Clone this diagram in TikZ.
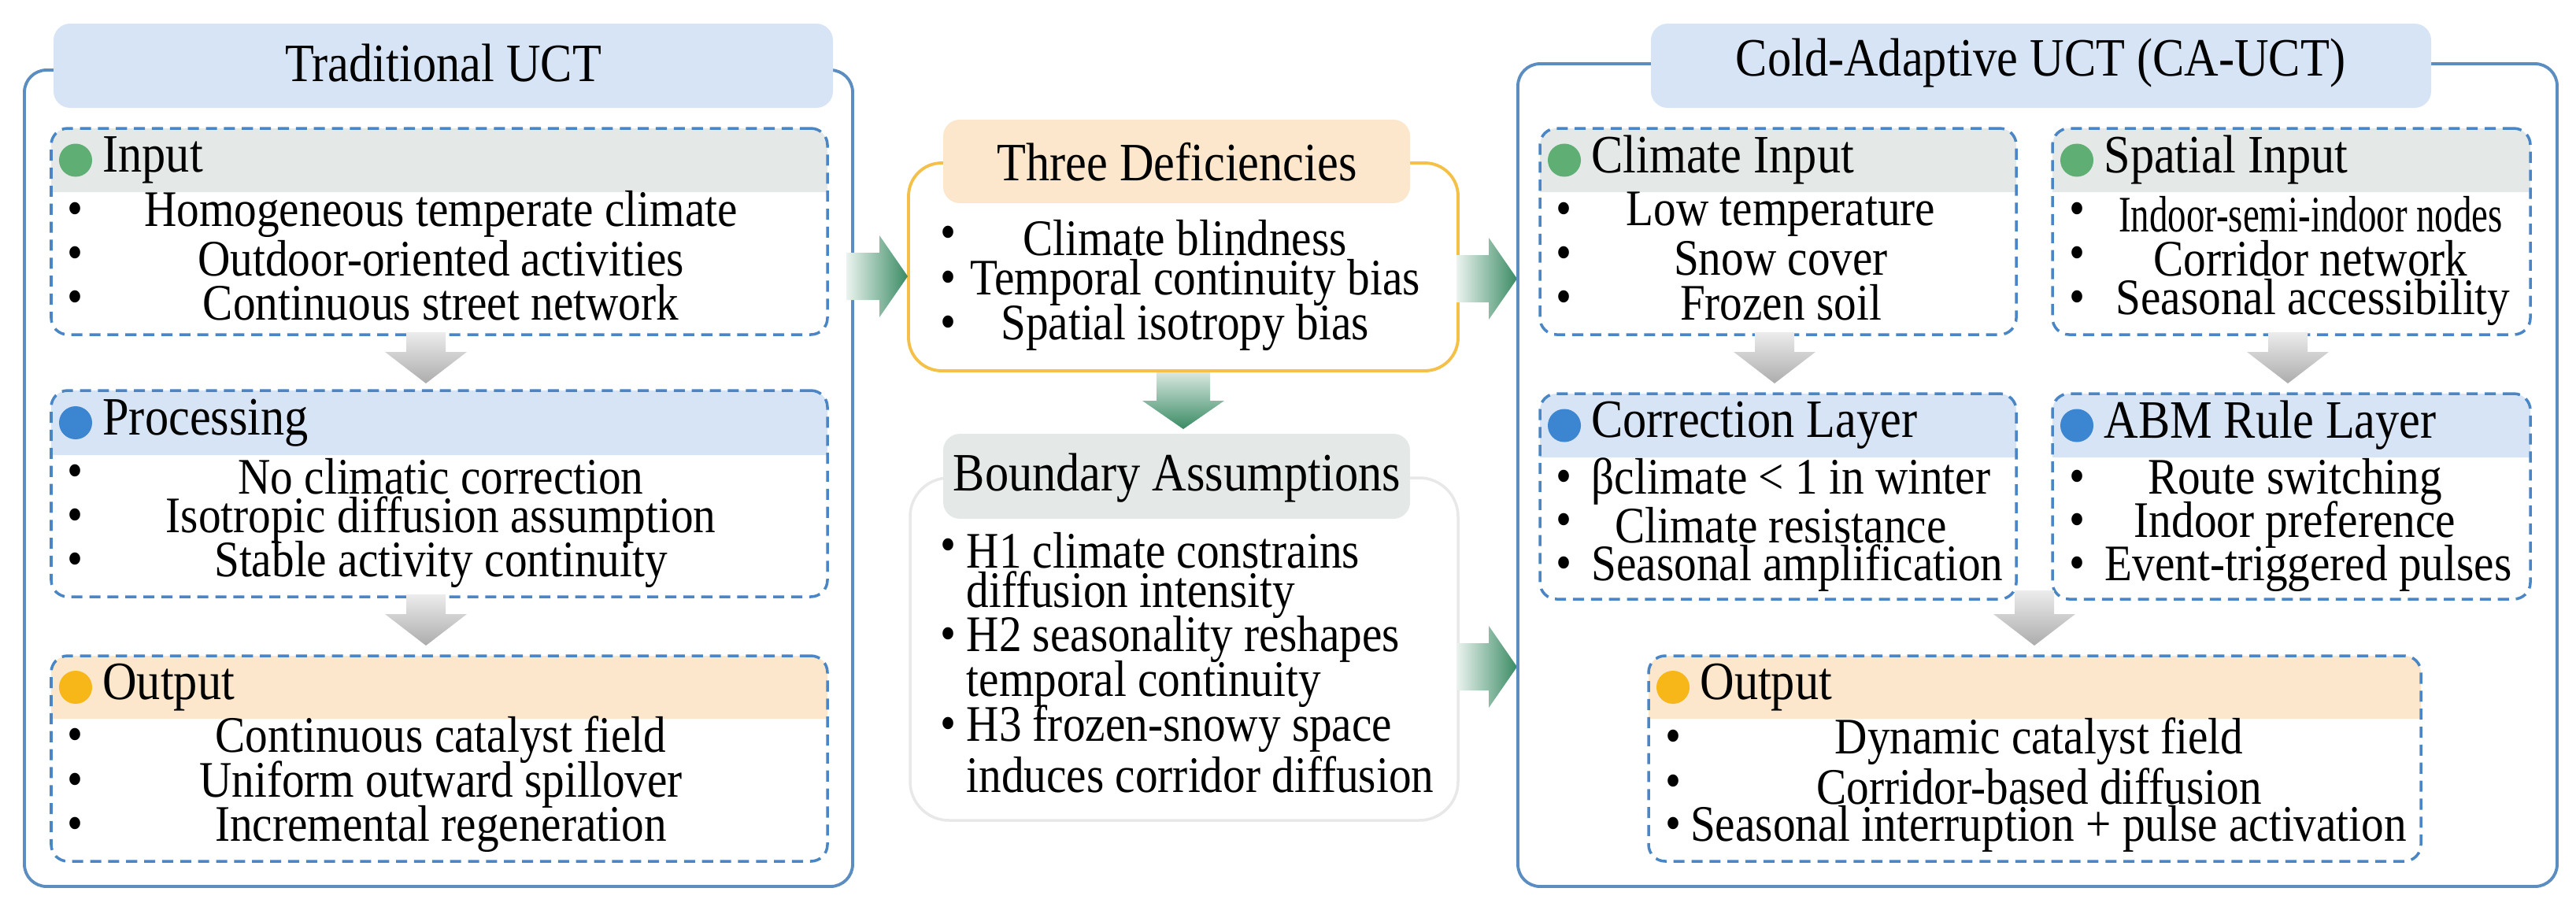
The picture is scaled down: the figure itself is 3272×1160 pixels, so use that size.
\documentclass[tikz,border=0pt]{standalone}
\usepackage{fontspec}
\setmainfont{Liberation Serif}[FakeStretch=0.88]
\usetikzlibrary{fit,calc}
\definecolor{hblue}{HTML}{D6E4F5}
\definecolor{hgray}{HTML}{E4E9E7}
\definecolor{horange}{HTML}{FCE7CC}
\definecolor{lblue}{HTML}{4A86C5}
\definecolor{oblue}{HTML}{5B8DC0}
\definecolor{dgreen}{HTML}{5FAE73}
\definecolor{dblue}{HTML}{3C85D0}
\definecolor{dyellow}{HTML}{F7B718}
\definecolor{oorange}{HTML}{F4C048}
\definecolor{agreen}{HTML}{3A8B64}
\tikzset{
  txt/.style={font=\fontsize{18.5}{18.5}\selectfont, inner sep=0pt},
  ttl/.style={font=\fontsize{19.5}{19.5}\selectfont, inner sep=0pt},
  outer/.style={draw=oblue, line width=1.1pt, rounded corners=8pt},
  dbox/.style={draw=lblue, line width=1pt, dash pattern=on 4pt off 2.5pt, rounded corners=6pt, inner sep=0pt},
  dot/.style={circle, fill=#1, minimum size=0.42cm, inner sep=0pt},
  gshade/.style={top color=gray!15, bottom color=gray!65},
  gvshade/.style={top color=agreen!20, bottom color=agreen},
  ghshade/.style={left color=agreen!10, right color=agreen},
}
\newcommand\darr[8]{%
  \coordinate (#1) at (#2,#3);
  \shade[#8] (#2-#5,#3) -- (#2+#5,#3) -- (#2+#5,#4-#7) -- (#2+#6,#4-#7) -- (#2,#4) -- (#2-#6,#4-#7) -- (#2-#5,#4-#7) -- cycle;
}
\newcommand\rarr[7]{%
  \coordinate (#1) at (#2,#4);
  \shade[ghshade] (#2,#4-#5) -- (#3-#7,#4-#5) -- (#3-#7,#4-#6) -- (#3,#4) -- (#3-#7,#4+#6) -- (#3-#7,#4+#5) -- (#2,#4+#5) -- cycle;
}
\newcommand\mybox[9]{%
  \coordinate (#1-nw) at (#2,#3); \coordinate (#1-se) at (#4,#5);
  \fill[#7] (#2,#6) [rounded corners=6pt]-- (#2,#3) -- (#4,#3) [sharp corners]-- (#4,#6) -- cycle;
  \node[dbox, fit=(#1-nw)(#1-se)] (#1) {};
  \node[dot=#8] (#1-d) at ($(#2,#3)!0.5!(#2,#6)+(31,0)$) {};
  \node[ttl, anchor=west] (#1-t) at ($(#1-d.east)+(12,0)$) {#9};
}
\newcommand\bline[5]{%
  \node[txt] (#1-b) at (#2,#4) {\textbullet};
  \node[txt] (#1) at (#3,#4) {#5};
}
\begin{document}
\begin{tikzpicture}[x=0.01cm,y=-0.01cm]
\useasboundingbox (0,0) rectangle (3272,1160);
% ---------- left panel
\node[outer, fit={(31,89)(1083,1126)}, inner sep=0pt] (L) {};
\fill[hblue, rounded corners=6pt] (68,30) rectangle (1058,137);
\node[ttl] (Lt) at (563,80) {Traditional UCT};
\mybox{inp}{65}{163}{1051}{425}{244}{hgray}{dgreen}{Input}
\bline{i1}{96}{560}{272}{Homogeneous temperate climate}
\bline{i2}{96}{560}{328}{Outdoor-oriented activities}
\bline{i3}{96}{560}{384}{Continuous street network}
\mybox{proc}{65}{496}{1051}{758}{578}{hblue}{dblue}{Processing}
\bline{p1}{96}{560}{605}{No climatic correction}
\bline{p2}{96}{560}{661}{Isotropic diffusion assumption}
\bline{p3}{96}{560}{717}{Stable activity continuity}
\mybox{out}{65}{833}{1051}{1094}{913}{horange}{dyellow}{Output}
\bline{o1}{96}{560}{940}{Continuous catalyst field}
\bline{o2}{96}{560}{997}{Uniform outward spillover}
\bline{o3}{96}{560}{1053}{Incremental regeneration}
\darr{a1}{541}{422}{487}{25}{52}{40}{gshade}
\darr{a2}{541}{755}{820}{25}{52}{40}{gshade}
% ---------- middle
\node[draw=oorange, line width=1.1pt, rounded corners=12pt, fit={(1154,207)(1852,471)}, inner sep=0pt] (D) {};
\fill[horange, rounded corners=6pt] (1198,152) rectangle (1791,258);
\node[ttl] (Dt) at (1495,206) {Three Deficiencies};
\bline{d1}{1205}{1505}{302}{Climate blindness}
\bline{d2}{1205}{1518}{359}{Temporal continuity bias}
\bline{d3}{1205}{1505}{416}{Spatial isotropy bias}
\node[draw=gray!18, line width=1pt, rounded corners=14pt, fit={(1156,607)(1852,1042)}, inner sep=0pt] (B) {};
\fill[hgray, rounded corners=6pt] (1198,551) rectangle (1791,659);
\node[ttl] (Bt) at (1495,607) {Boundary Assumptions};
\node[txt] (b1b) at (1205,699) {\textbullet};
\node[txt, anchor=west] (b1) at (1227,699) {H1 climate constrains};
\node[txt, anchor=west] (b1x) at (1227,756) {diffusion intensity};
\node[txt] (b2b) at (1205,812) {\textbullet};
\node[txt, anchor=west] (b2) at (1227,812) {H2 seasonality reshapes};
\node[txt, anchor=west] (b2x) at (1227,869) {temporal continuity};
\node[txt] (b3b) at (1205,926) {\textbullet};
\node[txt, anchor=west] (b3) at (1227,926) {H3 frozen-snowy space};
\node[txt, anchor=west] (b3x) at (1227,984) {induces corridor diffusion};
\rarr{g1}{1075}{1153}{351}{30}{52}{36}
\darr{g2}{1503}{473}{545}{34}{52}{36}{gvshade}
\rarr{g3}{1850}{1927}{354}{30}{52}{36}
\rarr{g4}{1850}{1927}{847}{30}{52}{36}
% ---------- right panel
\node[outer, fit={(1928,81)(3248,1126)}, inner sep=0pt] (R) {};
\fill[hblue, rounded corners=6pt] (2097,30) rectangle (3088,137);
\node[ttl] (Rt) at (2592,80) {Cold-Adaptive UCT (CA-UCT)};
\mybox{ci}{1956}{163}{2561}{425}{244}{hgray}{dgreen}{Climate Input}
\bline{c1}{1986}{2262}{272}{Low temperature}
\bline{c2}{1986}{2262}{328}{Snow cover}
\bline{c3}{1986}{2262}{384}{Frozen soil}
\mybox{si}{2607}{163}{3214}{425}{244}{hgray}{dgreen}{Spatial Input}
\bline{s1}{2638}{2935}{272}{\scalebox{0.82}[1]{Indoor-semi-indoor nodes}}
\bline{s2}{2638}{2935}{328}{Corridor network}
\bline{s3}{2638}{2938}{384}{Seasonal accessibility}
\mybox{cl}{1956}{500}{2561}{761}{581}{hblue}{dblue}{Correction Layer}
\bline{l1}{1986}{2275}{612}{βclimate < 1 in winter}
\bline{l2}{1986}{2262}{667}{Climate resistance}
\bline{l3}{1986}{2283}{722}{Seasonal amplification}
\mybox{ab}{2607}{500}{3214}{761}{581}{hblue}{dblue}{ABM Rule Layer}
\bline{r1}{2638}{2915}{612}{Route switching}
\bline{r2}{2638}{2915}{667}{Indoor preference}
\bline{r3}{2638}{2932}{722}{Event-triggered pulses}
\mybox{ro}{2094}{833}{3075}{1094}{913}{horange}{dyellow}{Output}
\bline{q1}{2125}{2590}{942}{Dynamic catalyst field}
\bline{q2}{2125}{2590}{999}{Corridor-based diffusion}
\bline{q3}{2125}{2602}{1053}{Seasonal interruption + pulse activation}
\darr{a3}{2254}{422}{487}{25}{52}{40}{gshade}
\darr{a4}{2906}{422}{487}{25}{52}{40}{gshade}
\darr{a5}{2584}{750}{820}{25}{52}{40}{gshade}
\end{tikzpicture}
\end{document}
